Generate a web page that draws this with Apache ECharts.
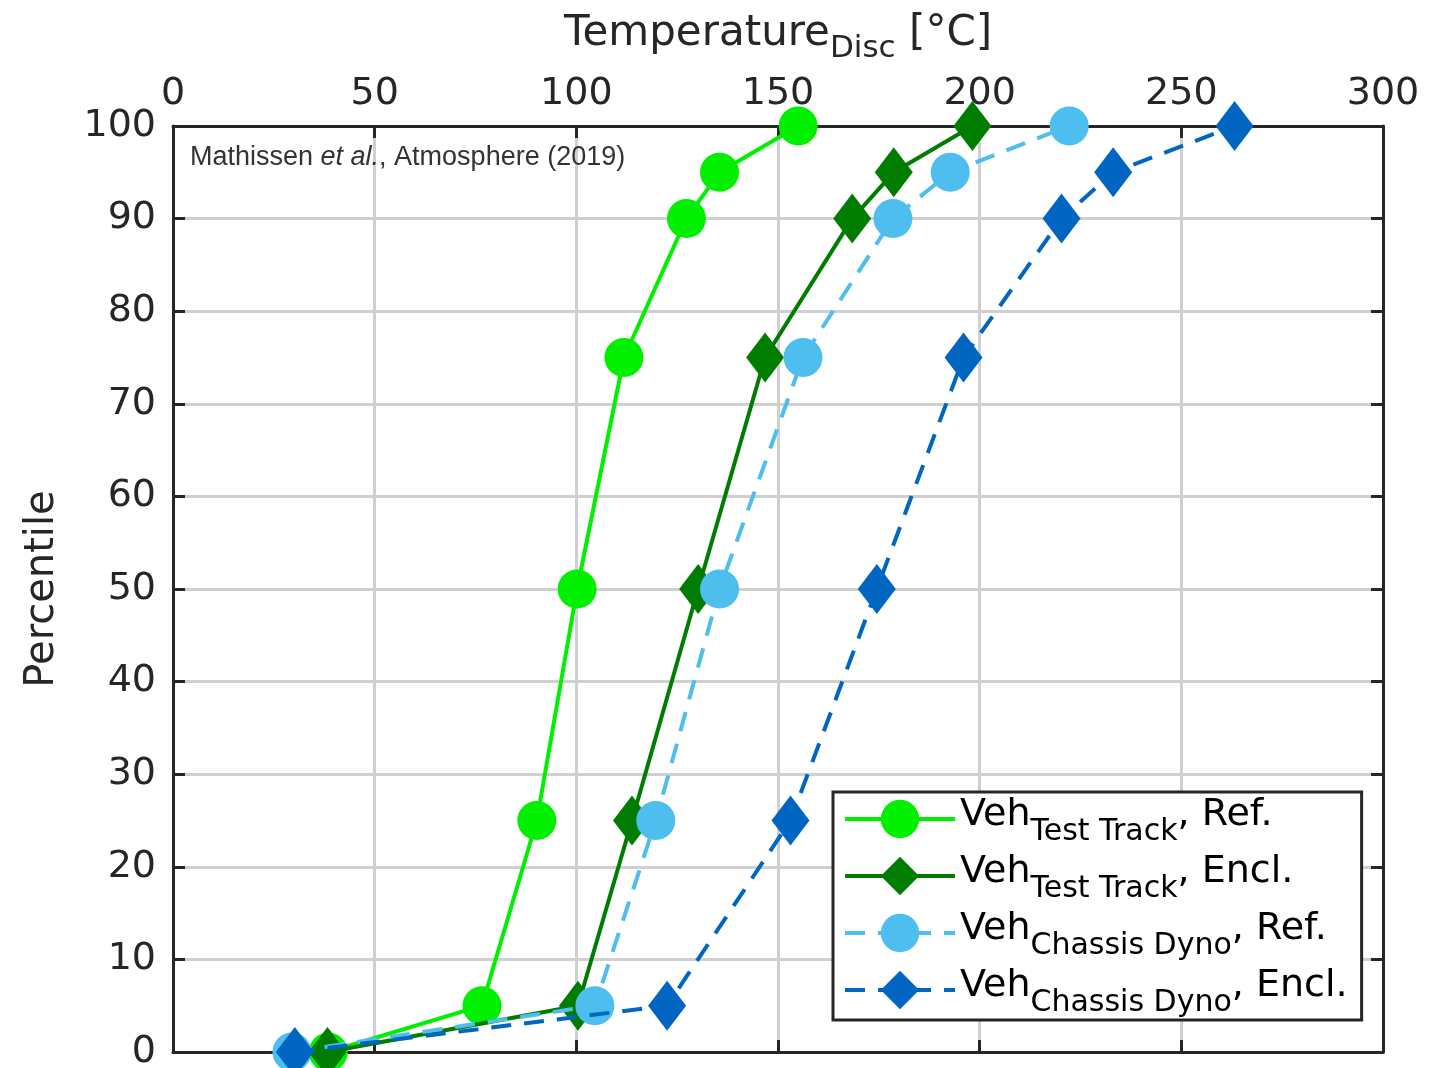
<!DOCTYPE html>
<html>
<head>
<meta charset="utf-8">
<script src="https://cdn.jsdelivr.net/npm/echarts@6/dist/echarts.min.js"></script>
<style>
html,body{margin:0;padding:0;background:#fff;overflow:hidden;}
#chart{width:1450px;height:1068px;}
</style>
</head>
<body>
<div id="chart"></div>
<script>
// Percentile levels (y values)
const percentiles = [0, 5, 25, 50, 75, 90, 95, 100];
// Disc temperature (x values) per series
const testTrackRef  = [38.5, 76.6, 90.2, 100.2, 111.8, 127.3, 135.5, 155.0];
const testTrackEncl = [38.3, 100.4, 113.8, 130.2, 146.8, 168.4, 178.7, 198.2];
const dynoRef       = [29.5, 104.6, 119.7, 135.5, 156.2, 178.5, 192.7, 222.2];
const dynoEncl      = [30.2, 122.5, 153.1, 174.5, 196.0, 220.3, 233.1, 263.2];
// Axis ticks
const xTicks = [0, 50, 100, 150, 200, 250, 300];
const yTicks = [0, 10, 20, 30, 40, 50, 60, 70, 80, 90, 100];
// Legend labels: [main, subscript, suffix]
const seriesNames = ['Veh_TT_Ref', 'Veh_TT_Encl', 'Veh_CD_Ref', 'Veh_CD_Encl'];
const legendParts = {
  'Veh_TT_Ref':  ['Veh', 'Test Track', ', Ref.'],
  'Veh_TT_Encl': ['Veh', 'Test Track', ', Encl.'],
  'Veh_CD_Ref':  ['Veh', 'Chassis Dyno', ', Ref.'],
  'Veh_CD_Encl': ['Veh', 'Chassis Dyno', ', Encl.']
};

const FONT = 'DejaVu Sans';
const INK = '#262626';
const zip = (xs) => xs.map((x, i) => [x, percentiles[i]]);

const colors = ['#00f000', '#007d00', '#4dbeee', '#0066c2'];

function mkSeries(idx, data, symbol, dashed) {
  return {
    name: seriesNames[idx],
    type: 'line',
    xAxisIndex: 0,
    yAxisIndex: 0,
    data: zip(data),
    symbol: symbol,
    symbolSize: symbol === 'diamond' ? [38, 50] : 39,
    showAllSymbol: true,
    lineStyle: { color: colors[idx], width: 4, type: dashed ? [20, 13] : 'solid' },
    itemStyle: { color: colors[idx] },
    emphasis: { disabled: true },
    animation: false,
    z: 2 + idx
  };
}

const chart = echarts.init(document.getElementById('chart'), null, { renderer: 'canvas' });

const axisLineStyle = { color: INK, width: 3 };
const tickStyle = { show: true, inside: true, length: 12, lineStyle: { color: INK, width: 3 } };

chart.setOption({
  backgroundColor: '#fff',
  animation: false,
  grid: { left: 173, top: 126, right: 67, bottom: 16, containLabel: false, outerBoundsMode: 'none' },
  xAxis: [
    {
      type: 'value', position: 'top', min: xTicks[0], max: xTicks[xTicks.length - 1], interval: 50,
      name: '{a|Temperature}{b|Disc}{a| [\u00B0C]}',
      nameLocation: 'middle', nameGap: 62,
      nameTextStyle: {
        color: INK, fontFamily: FONT,
        rich: {
          a: { fontSize: 42, fontFamily: FONT, color: INK },
          b: { fontSize: 31, fontFamily: FONT, color: INK, padding: [28, 0, 0, 0] }
        }
      },
      axisLine: { show: true, onZero: false, lineStyle: axisLineStyle },
      axisTick: tickStyle,
      axisLabel: { show: true, fontSize: 38, fontFamily: FONT, color: INK, margin: 13, showMinLabel: true, showMaxLabel: true },
      splitLine: { show: true, lineStyle: { color: '#d0d0d0', width: 3 } }
    },
    {
      type: 'value', position: 'bottom', min: xTicks[0], max: xTicks[xTicks.length - 1], interval: 50,
      axisLine: { show: true, onZero: false, lineStyle: axisLineStyle },
      axisTick: tickStyle,
      axisLabel: { show: false },
      splitLine: { show: false }
    }
  ],
  yAxis: [
    {
      type: 'value', position: 'left', min: yTicks[0], max: yTicks[yTicks.length - 1], interval: 10,
      name: 'Percentile', nameLocation: 'middle', nameGap: 110, nameRotate: 90,
      nameTextStyle: { fontSize: 40, fontFamily: FONT, color: INK },
      axisLine: { show: true, onZero: false, lineStyle: axisLineStyle },
      axisTick: tickStyle,
      axisLabel: { show: true, fontSize: 38, fontFamily: FONT, color: INK, margin: 17, showMinLabel: true, showMaxLabel: true },
      splitLine: { show: true, lineStyle: { color: '#d0d0d0', width: 3 } }
    },
    {
      type: 'value', position: 'right', min: yTicks[0], max: yTicks[yTicks.length - 1], interval: 10,
      axisLine: { show: true, onZero: false, lineStyle: axisLineStyle },
      axisTick: tickStyle,
      axisLabel: { show: false },
      splitLine: { show: false }
    }
  ],
  legend: {
    show: true,
    orient: 'vertical',
    left: 833, top: 792,
    data: seriesNames,
    backgroundColor: '#fff',
    borderColor: INK, borderWidth: 3, borderRadius: 0,
    padding: [4, 14, 2, 10],
    itemWidth: 110, itemHeight: 48, itemGap: 6,
    selectedMode: false,
    lineStyle: { width: 4 },
    formatter: function (name) {
      const p = legendParts[name];
      return '{v|' + p[0] + '}{s|' + p[1] + '}{v|' + p[2] + '}';
    },
    textStyle: {
      color: '#000', fontFamily: FONT,
      rich: {
        v: { fontSize: 38, fontFamily: FONT, color: '#000', padding: [0, 0, 8, 0] },
        s: { fontSize: 30, fontFamily: FONT, color: '#000', padding: [26, 0, 0, 0] }
      }
    }
  },
  graphic: [
    {
      type: 'text', left: 190, top: 144, z: 100,
      style: {
        text: '{n|Mathissen }{i|et al.}{n|, Atmosphere (2019)}',
        rich: {
          n: { fontFamily: 'Liberation Sans', fontSize: 27, fill: '#333' },
          i: { fontFamily: 'Liberation Sans', fontSize: 27, fill: '#333', fontStyle: 'italic' }
        }
      }
    }
  ],
  series: [
    mkSeries(0, testTrackRef, 'circle', false),
    mkSeries(1, testTrackEncl, 'diamond', false),
    mkSeries(2, dynoRef, 'circle', true),
    mkSeries(3, dynoEncl, 'diamond', true)
  ]
});
</script>
</body>
</html>
